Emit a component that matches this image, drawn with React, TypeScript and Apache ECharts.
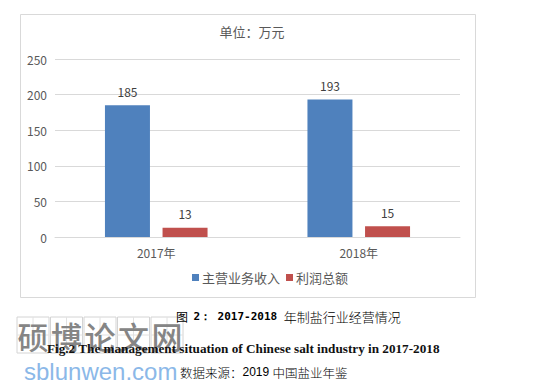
import React, { useEffect, useRef } from "react";
import * as echarts from "echarts";

const categories = ["2017年", "2018年"];
const seriesNames = ["主营业务收入", "利润总额"];
const revenue = [185, 193];
const profit = [13, 15];
const yTicks = { min: 0, max: 250, interval: 50 };
const chartTitle = "单位：万元";
const watermarkChars = ["硕", "博", "论", "文", "网"];

const CJK = '"Noto Sans CJK SC", "Noto Sans", sans-serif';

export default function App() {
  const ref = useRef<HTMLDivElement>(null);
  useEffect(() => {
    if (!ref.current) return;
    const chart = echarts.init(ref.current, undefined, { renderer: "svg" });

    const wmGraphics: any[] = [];
    watermarkChars.forEach((ch, i) => {
      const x0 = 17 + i * 33.5;
      const y0 = 317;
      const w = 32;
      const h = 36;
      wmGraphics.push({
        type: "rect",
        shape: { x: x0, y: y0, width: w, height: h },
        style: { fill: "none", stroke: "#d4d4d4", lineWidth: 1 },
        z: 1,
      });
      wmGraphics.push({
        type: "line",
        shape: { x1: x0 + w / 2, y1: y0, x2: x0 + w / 2, y2: y0 + h },
        style: { stroke: "#e2e2e2", lineWidth: 1 },
        z: 1,
      });
      wmGraphics.push({
        type: "line",
        shape: { x1: x0, y1: y0 + h / 2, x2: x0 + w, y2: y0 + h / 2 },
        style: { stroke: "#e2e2e2", lineWidth: 1 },
        z: 1,
      });
      wmGraphics.push({
        type: "text",
        x: x0 + w / 2,
        y: y0 + h / 2,
        style: {
          text: ch,
          fill: "#858585",
          font: '500 31px "Noto Sans CJK SC"',
          align: "center",
          verticalAlign: "middle",
        },
        z: 2,
      });
    });

    chart.setOption({
      animation: false,
      backgroundColor: "#ffffff",
      title: {
        text: chartTitle,
        left: 247,
        top: 20,
        textAlign: "center",
        textStyle: { fontSize: 13, fontWeight: "normal", color: "#595959", fontFamily: CJK },
      },
      legend: {
        data: seriesNames,
        left: "center",
        top: 266,
        itemWidth: 7,
        itemHeight: 7,
        itemGap: 6,
        icon: "rect",
        textStyle: { fontSize: 13, color: "#595959", fontFamily: CJK, padding: [0, 0, 0, -2] },
      },
      grid: { left: 55, right: 80, top: 59, bottom: 152 },
      xAxis: {
        type: "category",
        data: categories,
        axisLine: { lineStyle: { color: "#d9d9d9" } },
        axisTick: { show: false },
        axisLabel: { color: "#595959", fontSize: 12, margin: 9, fontFamily: CJK },
      },
      yAxis: {
        type: "value",
        min: yTicks.min,
        max: yTicks.max,
        interval: yTicks.interval,
        axisLine: { show: false },
        axisTick: { show: false },
        splitLine: { lineStyle: { color: "#d9d9d9" } },
        axisLabel: { color: "#595959", fontSize: 12, margin: 8, fontFamily: CJK },
      },
      series: [
        {
          name: seriesNames[0],
          type: "bar",
          data: revenue,
          barWidth: 45,
          barGap: "28%",
          itemStyle: { color: "#4F81BD" },
          label: { show: true, position: "top", distance: 8, color: "#404040", fontSize: 12, fontFamily: CJK },
        },
        {
          name: seriesNames[1],
          type: "bar",
          data: profit,
          barWidth: 45,
          itemStyle: { color: "#C0504D" },
          label: { show: true, position: "top", distance: 8, color: "#404040", fontSize: 12, fontFamily: CJK },
        },
      ],
      graphic: [
        {
          type: "rect",
          shape: { x: 20.5, y: 14.5, width: 455, height: 283 },
          style: { fill: "none", stroke: "#d9d9d9", lineWidth: 1 },
          silent: true,
        },
        ...wmGraphics,
        {
          type: "text",
          x: 176,
          y: 316,
          style: {
            text: "{a|图  }{b|2： 2017-2018 }{c|年制盐行业经营情况}",
            verticalAlign: "middle",
            rich: {
              a: { fontSize: 12, color: "#555", fontFamily: CJK },
              b: { fontSize: 11, color: "#111", fontWeight: "bold", fontFamily: '"DejaVu Sans Mono", monospace' },
              c: { fontSize: 13, color: "#444", fontFamily: CJK, fontWeight: 300 },
            },
          },
          z: 3,
        },
        {
          type: "text",
          x: 47,
          y: 348,
          style: {
            text: "Fig.2 The management situation of Chinese salt industry in 2017-2018",
            fill: "#111",
            font: 'bold 13.2px "Liberation Serif", serif',
            verticalAlign: "middle",
          },
          z: 3,
        },
        {
          type: "text",
          x: 24,
          y: 371,
          style: {
            text: "sblunwen.com",
            fill: "#8bb8e8",
            font: '24px "Liberation Sans", sans-serif',
            verticalAlign: "middle",
          },
          z: 3,
        },
        {
          type: "text",
          x: 180,
          y: 372,
          style: {
            text: "{c|数据来源：}{b|2019 }{c|中国盐业年鉴}",
            verticalAlign: "middle",
            rich: {
              b: { fontSize: 12, color: "#333", fontFamily: '"Liberation Sans", sans-serif' },
              c: { fontSize: 12.5, color: "#444", fontFamily: CJK, fontWeight: 300 },
            },
          },
          z: 3,
        },
      ],
    });
    return () => chart.dispose();
  }, []);
  return (
    <div
      ref={ref}
      style={{ position: "absolute", left: 0, top: 0, width: 540, height: 389 }}
    />
  );
}
